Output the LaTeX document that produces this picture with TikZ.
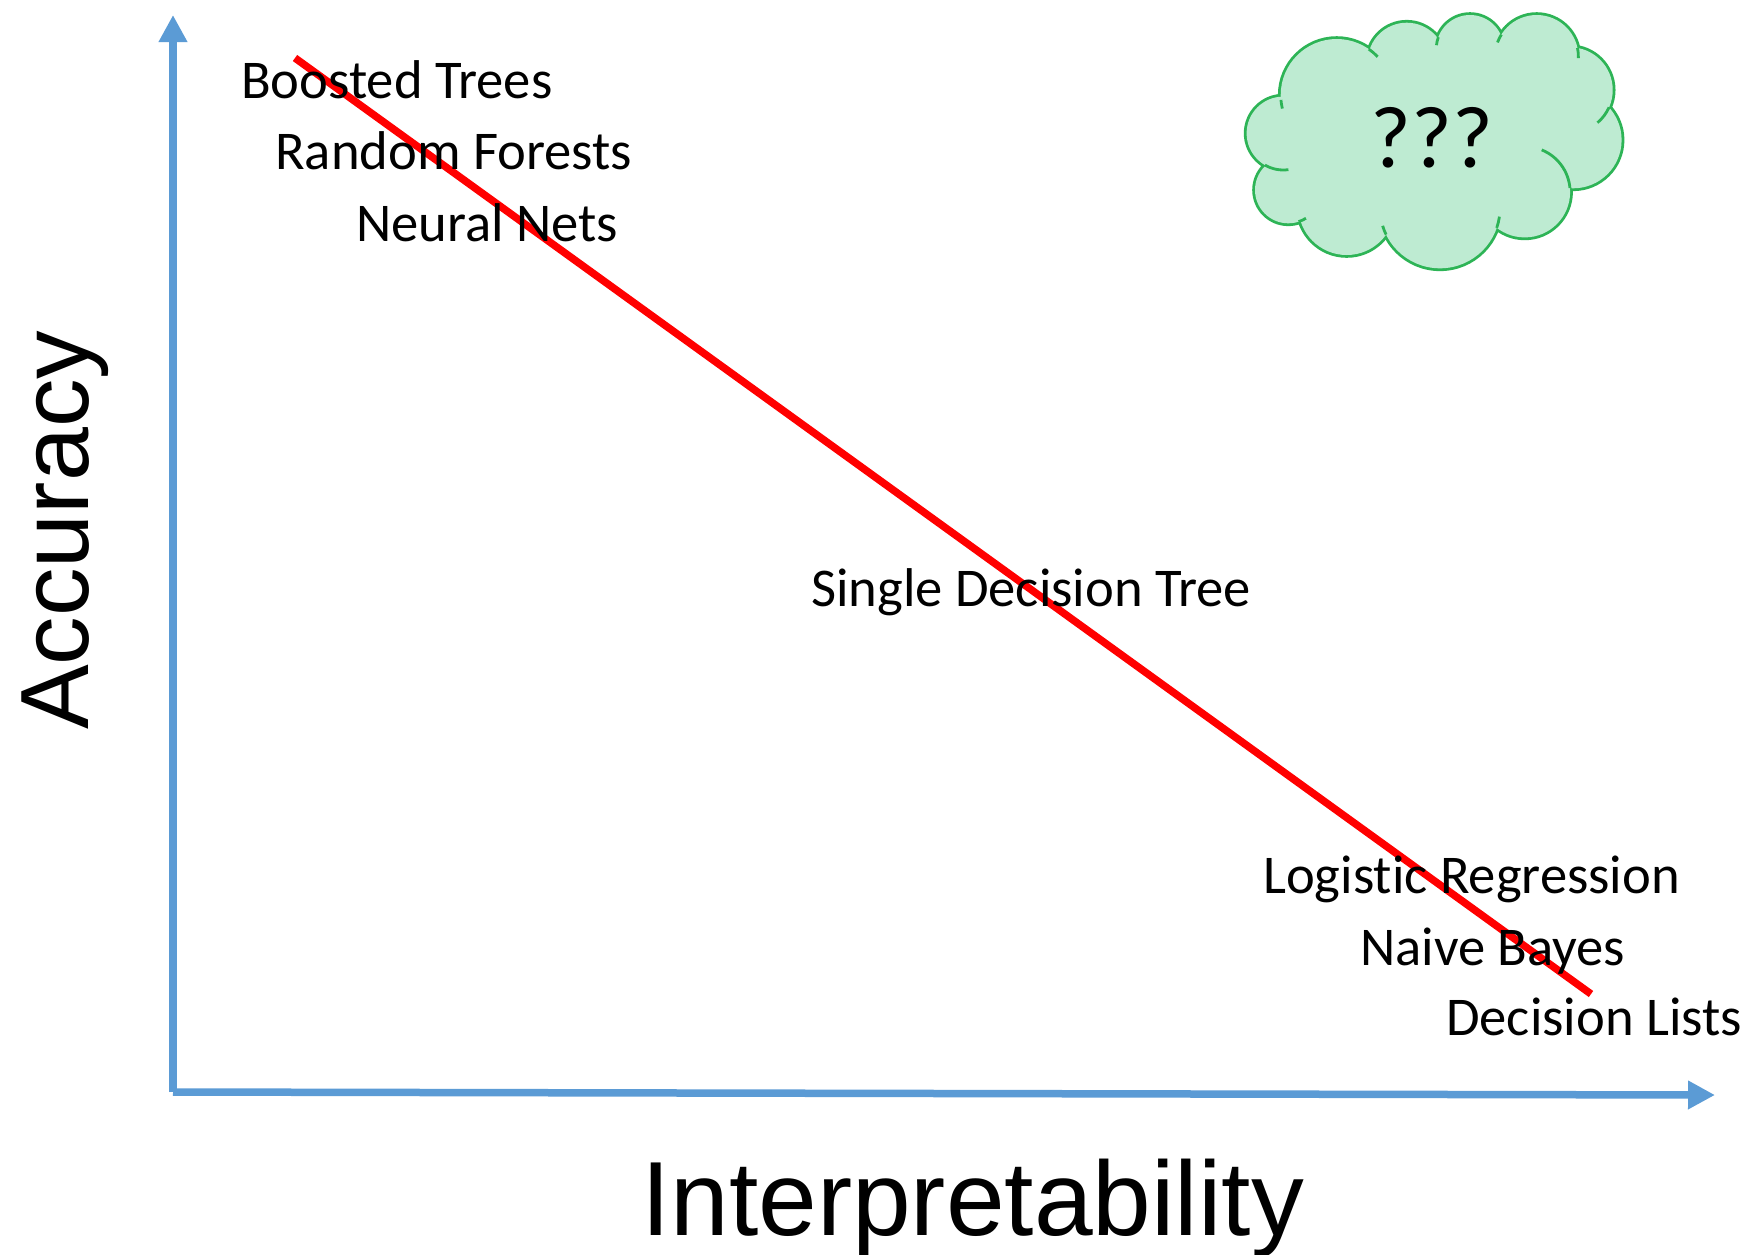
\documentclass[tikz,border=0pt]{standalone}
\usepackage{fontspec}
\setmainfont{Carlito}[Ligatures={NoCommon}]
\newfontfamily\axisfont{Liberation Sans}
\usetikzlibrary{arrows.meta}

\definecolor{axisblue}{HTML}{5B9BD5}
\definecolor{trendred}{HTML}{FF0000}
\definecolor{cloudfillc}{HTML}{BEEBD2}
\definecolor{cloudedge}{HTML}{2DB456}

\tikzset{
  axis/.style={draw=axisblue, line width=7.5pt,
    -{Triangle[length=27pt,width=27pt]}},
  trend/.style={draw=trendred, line width=7.5pt},
  model/.style={font=\fontsize{54.6}{62}\selectfont, inner sep=0pt, anchor=base west},
  axislabel/.style={font=\axisfont, inner sep=0pt, anchor=base west},
  puffedge/.style={draw=cloudedge, line width=5.6pt},
  hook/.style={draw=cloudedge, line width=2.8pt},
}

\begin{document}
\begin{tikzpicture}[x=1pt, y=-1pt]
\useasboundingbox[fill=white] (0,0) rectangle (1742,1254);

% axes
\coordinate (origin) at (173,1092);
\coordinate (ytip) at (173,15);
\coordinate (xtip) at (1715,1095);
\draw[axis] (origin) -- (ytip);
\draw[axis] (origin) -- (xtip);

% axis titles
\node[axislabel, rotate=90, font=\axisfont\fontsize{97}{105}\selectfont] (acc) at (88,730) {Accuracy};
\node[axislabel, font=\axisfont\fontsize{105.5}{115}\selectfont] (interp) at (641,1235) {Interpretability};

% trade-off line
\coordinate (hiacc) at (295,58);
\coordinate (hiint) at (1591,994);
\draw[trend] (hiacc) -- (hiint);

% model families
\node[model] (boost) at (241,98.5) {Boosted Trees};
\node[model] (rf)    at (275,169.5) {Random Forests};
\node[model] (nn)    at (356,241.5) {Neural Nets};
\node[model] (tree)  at (811,606) {Single Decision Tree};
\node[model] (logreg) at (1263,893) {Logistic Regression};
\node[model] (nb)    at (1360,965) {Naive Bayes};
\node[model] (dl)    at (1446,1035) {Decision Lists};

% cloud: thick puff outlines first, then the fill covers inner halves and overlaps
\def\puffs{1283.3/133.3/36.7, 1336.7/95/56, 1406.7/61.7/39, 1470/48.7/33.7,
  1536.7/56.7/41.7, 1570/90/42.7, 1573.3/140/48.3, 1524.7/192/45.4,
  1440/208.3/60, 1346.7/206.7/48.3, 1288.3/190/33.3}
\foreach \cx/\cy/\r in \puffs {
  \draw[puffedge] (\cx,\cy) circle[radius=\r];
}
\fill[cloudfillc] (1283.3,133.3) -- (1336.7,95) -- (1406.7,61.7) -- (1470,48.7)
  -- (1536.7,56.7) -- (1570,90) -- (1573.3,140) -- (1524.7,192) -- (1440,208.3)
  -- (1346.7,206.7) -- (1288.3,190) -- cycle;
\foreach \cx/\cy/\r in \puffs {
  \fill[cloudfillc] (\cx,\cy) circle[radius=\r];
}
% inner hooks where puffs meet
\draw[hook] (1336.7,95) ++(175:56) arc[start angle=175, end angle=166, radius=56];
\draw[hook] (1336.7,95) ++(-55:56) arc[start angle=-55, end angle=-43, radius=56];
\draw[hook] (1470,48.7) ++(200:33.7) arc[start angle=200, end angle=186, radius=33.7];
\draw[hook] (1536.7,56.7) ++(212:41.7) arc[start angle=212, end angle=200, radius=41.7];
\draw[hook] (1536.7,56.7) ++(-12:41.7) arc[start angle=-12, end angle=2, radius=41.7];
\draw[hook] (1570,90) ++(24:42.7) arc[start angle=24, end angle=50, radius=42.7];
\draw[hook] (1524.7,192) ++(-5:45.4) arc[start angle=-5, end angle=-68, radius=45.4];
\draw[hook] (1440,208.3) ++(19:60) arc[start angle=19, end angle=8, radius=60];
\draw[hook] (1440,208.3) ++(154:60) arc[start angle=154, end angle=163, radius=60];
\draw[hook] (1288.3,190) ++(72:33.3) arc[start angle=72, end angle=58, radius=33.3];
\draw[hook] (1283.3,133.3) ++(120:36.7) arc[start angle=120, end angle=82, radius=36.7];

\node[font=\fontsize{88}{96}\selectfont, inner sep=0pt] (unknown) at (1432,138) {???};
\end{tikzpicture}
\end{document}
